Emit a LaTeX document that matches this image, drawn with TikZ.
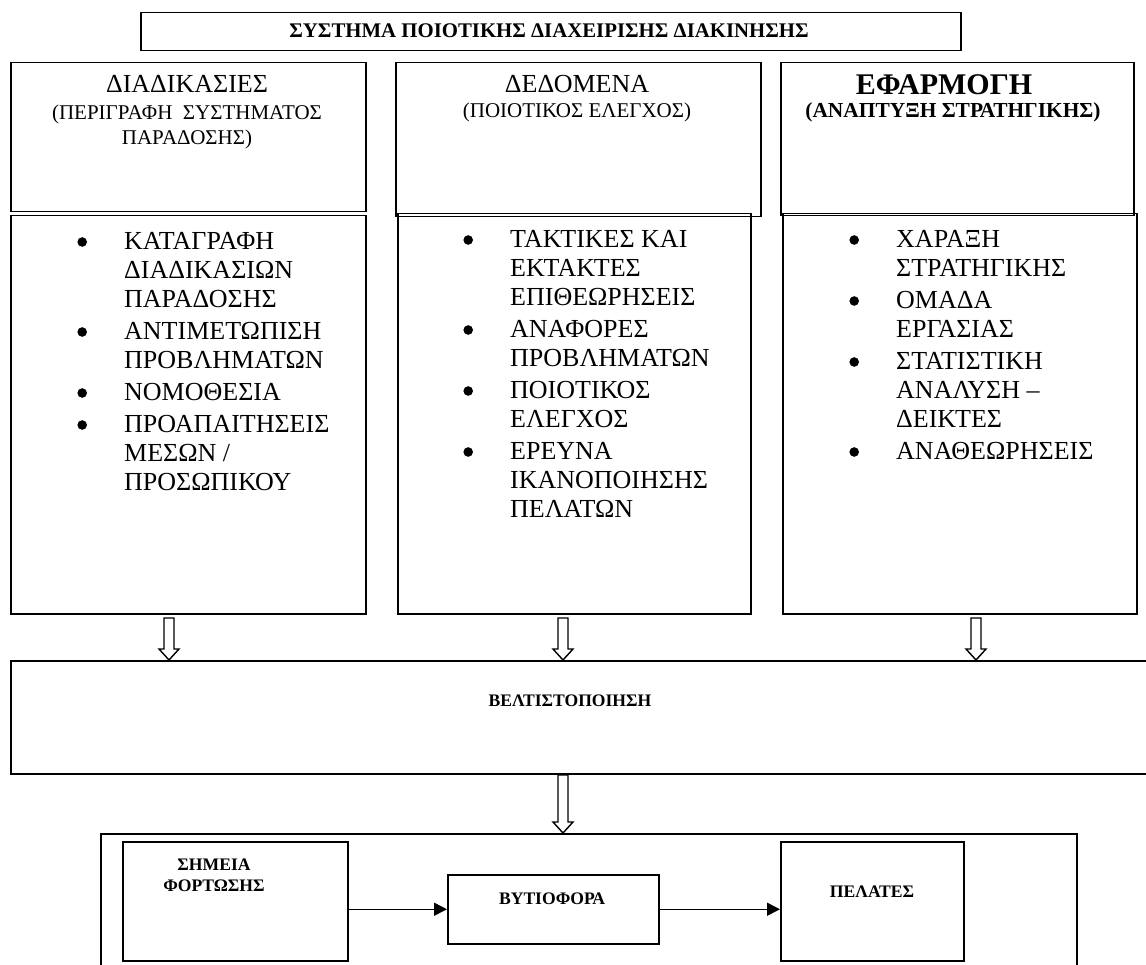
\documentclass[tikz,border=0pt]{standalone}
\usepackage{fontspec}
\setmainfont{Liberation Serif}
\usetikzlibrary{arrows.meta,calc}
% rectangle node given by its corners: name, x1, y1, x2, y2
\newcommand\cornerbox[5]{\node[box, minimum width={#4-#2}, minimum height={#5-#3}] (#1) at (#2,#3) {};}
% outlined block arrow from a start coordinate down to a tip coordinate
\newcommand\blockarrow[2]{\draw[hollow] ($(#1)+(-5,0)$) -- ($(#2)+(-5,-11)$) -- ($(#2)+(-10,-11)$) -- (#2) -- ($(#2)+(10,-11)$) -- ($(#2)+(5,-11)$) -- ($(#1)+(5,0)$) -- cycle;}
% list bullet: a filled dot centred in an 84pt wide cell
\newcommand\bul{\makebox[84pt]{\raisebox{3.2pt}{\tikz\fill (0,0) circle[radius=4.8pt];}}}
\begin{document}
\begin{tikzpicture}[x=1pt,y=-1pt,
  box/.style={draw, line width=1.5pt, inner sep=0pt, anchor=north west},
  conn/.style={line width=1.5pt, -{Triangle[length=13pt,width=13pt]}},
  hollow/.style={draw, line width=1.4pt, fill=white, line join=miter},
  txt/.style={inner sep=0pt, anchor=base},
  head/.style={txt, font=\fontsize{26}{29}\selectfont},
  headbf/.style={txt, font=\fontsize{30}{32}\selectfont\bfseries},
  sub/.style={txt, font=\fontsize{21}{25}\selectfont},
  subbf/.style={txt, font=\fontsize{21.4}{25}\selectfont\bfseries},
  lbl/.style={txt, font=\fontsize{17.6}{21}\selectfont\bfseries},
  titlelbl/.style={txt, font=\fontsize{20.8}{24}\selectfont\bfseries},
  items/.style={inner sep=0pt, anchor=base west, font=\fontsize{26}{29}\selectfont},
]
\clip (0,0) rectangle (1146,965);

% title
\cornerbox{title}{140}{12}{960}{50}
\node[titlelbl] (titletxt) at (549,38) {ΣΥΣΤΗΜΑ ΠΟΙΟΤΙΚΗΣ ΔΙΑΧΕΙΡΙΣΗΣ ΔΙΑΚΙΝΗΣΗΣ};

% column headers
\cornerbox{h1}{10}{62}{365}{211}
\cornerbox{h2}{395}{62}{760}{216}
\cornerbox{h3}{780}{62}{1133}{215}
% column bodies
\cornerbox{b1}{10}{215}{365}{613}
\cornerbox{b2}{397}{213}{750}{613}
\cornerbox{b3}{782}{213}{1136}{613}

\node[head] (h1a) at (187,93) {ΔΙΑΔΙΚΑΣΙΕΣ};
\node[sub]  (h1b) at (187,120) {(ΠΕΡΙΓΡΑΦΗ \ ΣΥΣΤΗΜΑΤΟΣ};
\node[sub]  (h1c) at (187,145) {ΠΑΡΑΔΟΣΗΣ)};
\node[head] (h2a) at (577,93) {ΔΕΔΟΜΕΝΑ};
\node[sub]  (h2b) at (577,118) {(ΠΟΙΟΤΙΚΟΣ ΕΛΕΓΧΟΣ)};
\node[headbf] (h3a) at (944,95) {ΕΦΑΡΜΟΓΗ};
\node[subbf]  (h3b) at (953,118) {(ΑΝΑΠΤΥΞΗ ΣΤΡΑΤΗΓΙΚΗΣ)};

% bullet lists
\node[items] (l1) at (40,250) {\begin{tabular}[t]{@{}l@{}l@{}}
\bul & ΚΑΤΑΓΡΑΦΗ\\ & ΔΙΑΔΙΚΑΣΙΩΝ\\ & ΠΑΡΑΔΟΣΗΣ\\[3pt]
\bul & ΑΝΤΙΜΕΤΩΠΙΣΗ\\ & ΠΡΟΒΛΗΜΑΤΩΝ\\[3pt]
\bul & ΝΟΜΟΘΕΣΙΑ\\[3pt]
\bul & ΠΡΟΑΠΑΙΤΗΣΕΙΣ\\ & ΜΕΣΩΝ /\\ & ΠΡΟΣΩΠΙΚΟΥ
\end{tabular}};
\node[items] (l2) at (426,248) {\begin{tabular}[t]{@{}l@{}l@{}}
\bul & ΤΑΚΤΙΚΕΣ ΚΑΙ\\ & ΕΚΤΑΚΤΕΣ\\ & ΕΠΙΘΕΩΡΗΣΕΙΣ\\[3pt]
\bul & ΑΝΑΦΟΡΕΣ\\ & ΠΡΟΒΛΗΜΑΤΩΝ\\[3pt]
\bul & ΠΟΙΟΤΙΚΟΣ\\ & ΕΛΕΓΧΟΣ\\[3pt]
\bul & ΕΡΕΥΝΑ\\ & ΙΚΑΝΟΠΟΙΗΣΗΣ\\ & ΠΕΛΑΤΩΝ
\end{tabular}};
\node[items] (l3) at (812,248) {\begin{tabular}[t]{@{}l@{}l@{}}
\bul & ΧΑΡΑΞΗ\\ & ΣΤΡΑΤΗΓΙΚΗΣ\\[3pt]
\bul & ΟΜΑΔΑ\\ & ΕΡΓΑΣΙΑΣ\\[3pt]
\bul & ΣΤΑΤΙΣΤΙΚΗ\\ & ΑΝΑΛΥΣΗ –\\ & ΔΕΙΚΤΕΣ\\[3pt]
\bul & ΑΝΑΘΕΩΡΗΣΕΙΣ
\end{tabular}};

% optimisation band
\cornerbox{opt}{10}{660}{1170}{773}
\node[lbl] (opttxt) at (570,706) {ΒΕΛΤΙΣΤΟΠΟΙΗΣΗ};

% distribution chain
\cornerbox{chain}{100}{833}{1076}{1010}
\cornerbox{load}{122}{841}{347}{960}
\cornerbox{truck}{447}{874}{658}{943}
\cornerbox{cust}{780}{841}{963}{960}
\node[lbl] (loada) at (214,870) {ΣΗΜΕΙΑ};
\node[lbl] (loadb) at (214,891) {ΦΟΡΤΩΣΗΣ};
\node[lbl] (trucktxt) at (552,904) {ΒΥΤΙΟΦΟΡΑ};
\node[lbl] (custtxt) at (872,897) {ΠΕΛΑΤΕΣ};

\draw[conn] (load.east |- truck.west) -- (truck.west);
\draw[conn] (truck.east) -- (cust.west |- truck.east);

% block arrows
\coordinate (s1) at (169,618);
\coordinate (s2) at (563,618);
\coordinate (s3) at (976,618);
\coordinate (s4) at (563,775);
\blockarrow{s1}{s1 |- opt.north}
\blockarrow{s2}{s2 |- opt.north}
\blockarrow{s3}{s3 |- opt.north}
\blockarrow{s4}{s4 |- chain.north}
\end{tikzpicture}
\end{document}
